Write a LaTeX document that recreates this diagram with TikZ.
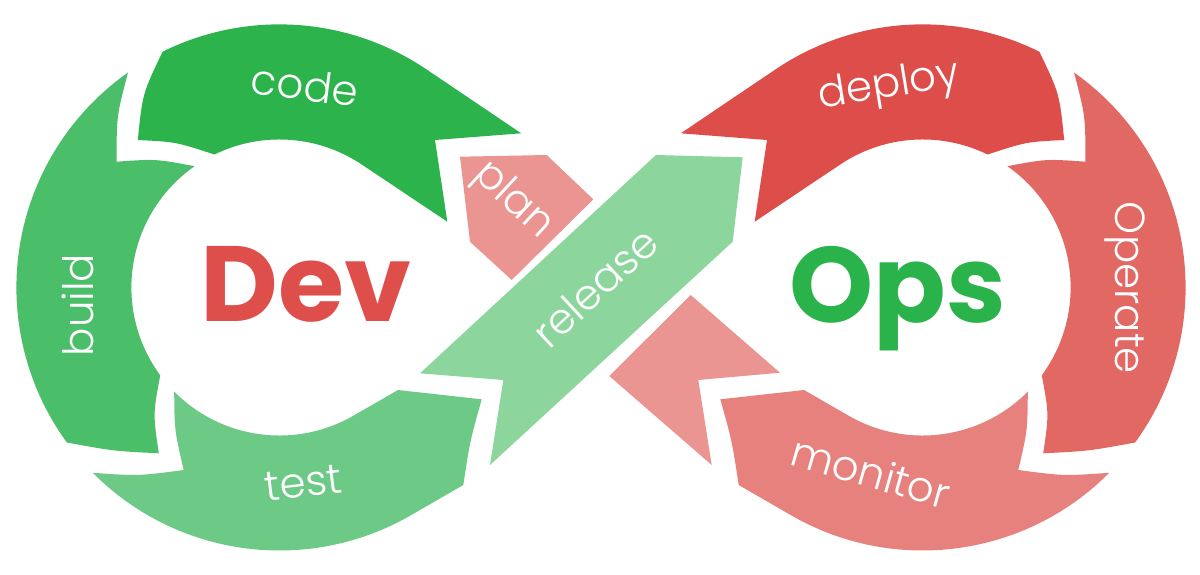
\documentclass[tikz,border=0pt]{standalone}
\usepackage{fontspec}
\setmainfont{Poppins}
\newfontfamily\lblfont{Poppins Light}
\definecolor{codec}{HTML}{2CB34C}
\definecolor{buildc}{HTML}{4BBE69}
\definecolor{testc}{HTML}{6CCA86}
\definecolor{releasec}{HTML}{8CD69E}
\definecolor{deployc}{HTML}{DD4E4A}
\definecolor{operatec}{HTML}{E26864}
\definecolor{monitorc}{HTML}{E7817D}
\definecolor{planc}{HTML}{EA9591}
\definecolor{devred}{HTML}{DE4F4B}
\definecolor{opsgreen}{HTML}{2AB34B}
\newcommand\ShapeA[1]{\fill[#1] (162.6,51.7) arc[start angle=-116.35, end angle=-56, radius=263] -- (521.2,133.3) -- (435,140) -- (447.3,221.7) -- (361.3,164.2) arc[start angle=-56.4, end angle=-116.05, radius=148] .. controls (176,141.9) .. (137.8,140) .. controls (142.5,93.7) .. (162.6,51.7) -- cycle;}
\newcommand\ShapeB[1]{\fill[#1] (128.0,72.4) .. controls (116.5,116.4) .. (116.7,161.7) .. controls (155.9,158.9) .. (194.6,166.2) arc[start angle=-124.94, end angle=-216.4, radius=148] .. controls (153,414) .. (158.8,453.3) .. controls (113,451) .. (66.9,442.5) arc[start angle=143.9, end angle=234.85, radius=263] -- cycle;}
\newcommand\ShapeC[1]{\fill[#1] (92.8,472.8) .. controls (138.4,476) .. (183.7,470) .. controls (174.5,430.5) .. (174.2,391.6) arc[start angle=135.3, end angle=60, radius=148] -- (398,390) -- (481.7,399.3) .. controls (470,441) .. (463.3,485) -- (410.3,515.6) arc[start angle=60.15, end angle=135.2, radius=263] -- cycle;}
\begin{document}
\begin{tikzpicture}[x=0.5pt,y=-0.5pt,
  lbl/.style={text=white, font=\lblfont\fontsize{21pt}{21pt}\selectfont, inner sep=0pt},
  big/.style={font=\bfseries\fontsize{53.5pt}{53.5pt}\selectfont, inner sep=0pt, anchor=base}]
\useasboundingbox[fill=white] (0,0) rectangle (1200,574);
% Dev lobe
\ShapeA{codec}
\ShapeB{buildc}
\ShapeC{testc}
% Ops lobe (mirror)
\begin{scope}[shift={(1202,0)}, xscale=-1]
\ShapeA{deployc}
\ShapeB{operatec}
\ShapeC{monitorc}
\end{scope}
% crossing
\fill[planc] (460,156.7) -- (546.7,155) -- (593.3,199.3) -- (511.7,280) -- (470,241.7) -- cycle;
\fill[planc] (690.7,295) -- (780,372.7) -- (698.3,380) -- (711.7,465) -- (609.3,376) -- cycle;
\fill[releasec] (656,155) -- (742.7,157.3) -- (732.7,241.7) -- (490,465) -- (503.3,380) -- (420,373.3) -- cycle;
% texts
\node[big, text=devred] (dev) at (306,321) {Dev};
\node[big, text=opsgreen] (ops) at (898,322) {Ops};
\node[lbl, rotate=-7.2] (code) at (305,85) {code};
\node[lbl, rotate=90] (build) at (77.5,305) {build};
\node[lbl, rotate=6.8] (test) at (303,483) {test};
\node[lbl, rotate=42.8] (release) at (595,287) {release};
\node[lbl, rotate=-42.8] (plan) at (513,201) {plan};
\node[lbl, rotate=9.3] (deploy) at (889,87) {deploy};
\node[lbl, rotate=-90] (operate) at (1125,288) {Operate};
\node[lbl, rotate=-15.8] (monitor) at (871,472) {monitor};
\end{tikzpicture}
\end{document}
